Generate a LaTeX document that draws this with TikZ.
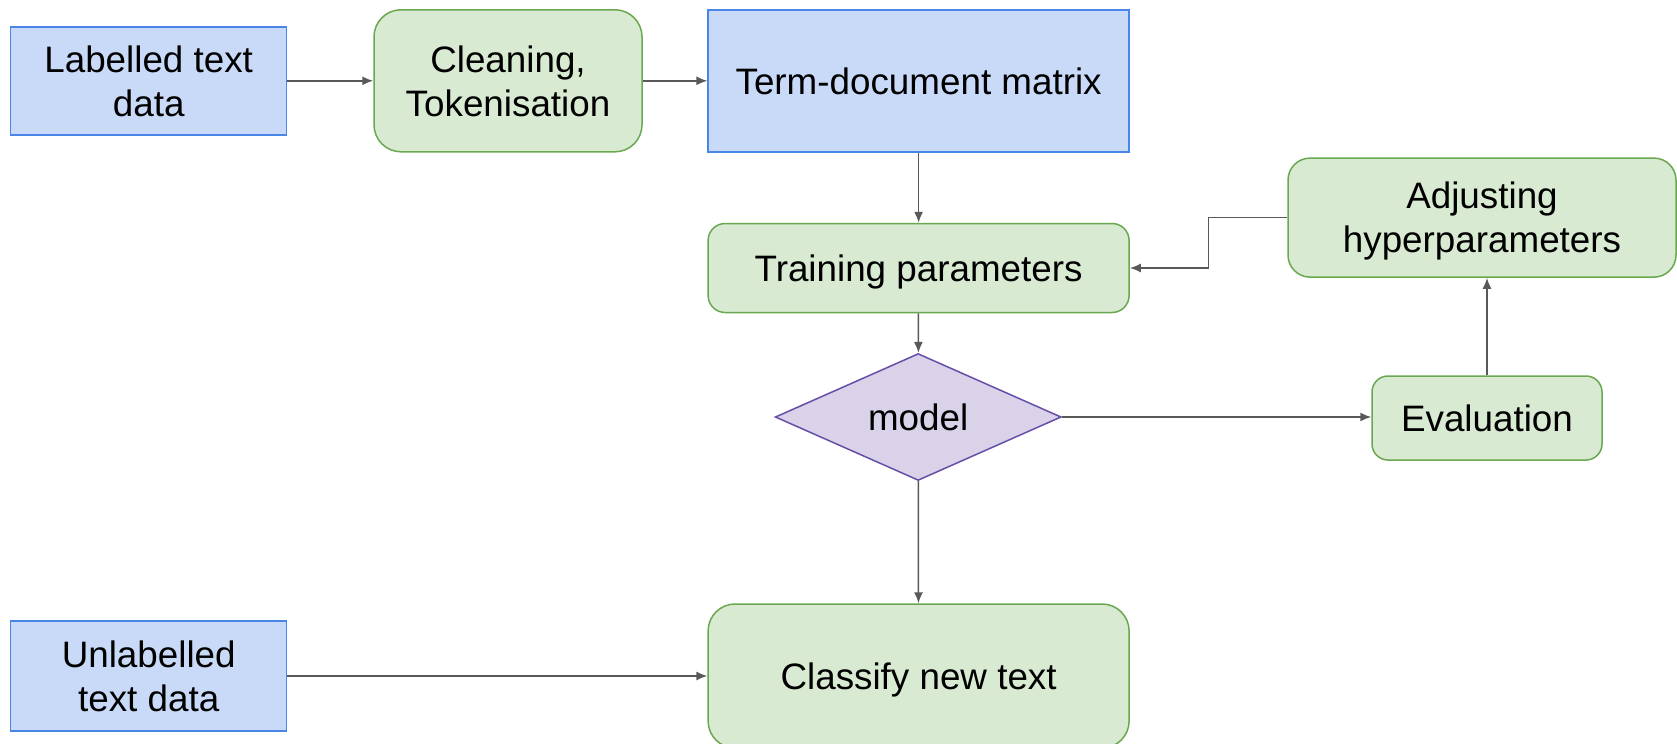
\documentclass[tikz,border=0pt]{standalone}
\usepackage{fontspec}
\setmainfont{Liberation Sans}
\usetikzlibrary{shapes.geometric,arrows.meta}

\definecolor{bluefill}{HTML}{C9DAF8}
\definecolor{blueline}{HTML}{4A86E8}
\definecolor{greenfill}{HTML}{D9EAD3}
\definecolor{greenline}{HTML}{6AA84F}
\definecolor{purplefill}{HTML}{D9D2E9}
\definecolor{purpleline}{HTML}{674EA7}
\definecolor{arrowgray}{HTML}{595959}

\begin{document}
\begin{tikzpicture}[
				x=.5pt, y=-.5pt,
				every node/.style={
						font=\fontsize{18.4}{22}\selectfont,
						align=center,
						inner sep=0pt,
						text depth=0pt,
					},
				datanode/.style={
						rectangle,
						fill=bluefill,
						draw=blueline,
						line width=.75pt,
					},
				stepnode/.style={
						rectangle,
						fill=greenfill,
						draw=greenline,
						line width=.75pt,
						rounded corners=#1,
					},
				decision/.style={
						diamond,
						fill=purplefill,
						draw=purpleline,
						line width=.75pt,
					},
				arr/.style={
						-{Latex[length=5.5pt,width=4.5pt]},
						draw=arrowgray,
						line width=.75pt,
					},
			]
			\useasboundingbox (0,0) rectangle (1677,744);

			\node[datanode, minimum width=138pt, minimum height=54pt] (lab) at (148.7,80.8) {Labelled text\\data};
			\node[stepnode=13.5pt, minimum width=134pt, minimum height=71pt] (clean) at (508,80.8) {Cleaning,\\Tokenisation};
			\node[datanode, minimum width=210.5pt, minimum height=71pt] (tdm) at (918.6,80.8) {Term-document matrix};
			\node[stepnode=8.5pt, minimum width=210.5pt, minimum height=44.5pt] (train) at (918.6,268) {Training parameters};
			\node[stepnode=11pt, minimum width=194pt, minimum height=59.5pt] (adj) at (1482,217.6) {Adjusting\\hyperparameters};
			\node[decision, minimum width=143pt, minimum height=60pt] (model) at (918.2,417) {model};
			\node[stepnode=8pt, minimum width=115pt, minimum height=42pt] (eval) at (1487,418) {Evaluation};
			\node[datanode, minimum width=138pt, minimum height=55pt] (unlab) at (148.7,676) {Unlabelled\\text data};
			\node[stepnode=13.5pt, minimum width=210.5pt, minimum height=72pt] (cls) at (918.6,676) {Classify new text};

			\draw[arr] (lab) -- (clean);
			\draw[arr] (clean) -- (tdm);
			\draw[arr] (tdm) -- (train);
			\draw[arr] (adj.west) -- ++(-79,0) |- (train.east);
			\draw[arr] (train) -- (model);
			\draw[arr] (model.east) -- (model.east -| eval.west);
			\draw[arr] (eval.north) -- (eval.north |- adj.south);
			\draw[arr] (model) -- (cls);
			\draw[arr] (unlab) -- (cls);
		\end{tikzpicture}
\end{document}
